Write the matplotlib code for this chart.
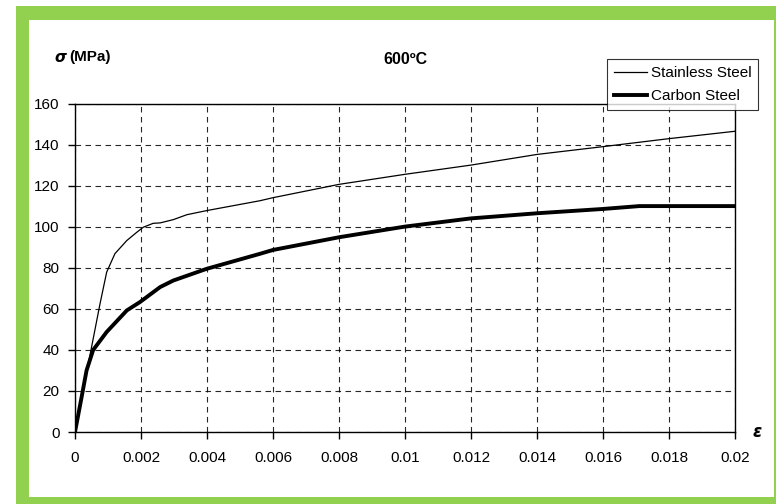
import matplotlib
matplotlib.use("Agg")
import matplotlib.pyplot as plt
from matplotlib.patches import Rectangle

plt.rcParams['font.family'] = ['Liberation Sans', 'DejaVu Sans']

# Stress-strain curves at 600ºC
strain_ss = [0, 0.0004, 0.00076, 0.00096, 0.00121, 0.00157, 0.00187, 0.00207,
             0.00237, 0.00258, 0.00298, 0.00339, 0.00399, 0.0056, 0.006,
             0.008, 0.010, 0.012, 0.014, 0.016, 0.018, 0.020]
stress_ss = [0, 33, 62.7, 78, 87, 93.4, 97.4, 99.9,
             101.8, 102, 103.6, 106, 108, 112.8, 114.3,
             120.8, 125.7, 130.2, 135.4, 139.2, 143.1, 146.7]

strain_cs = [0, 0.0002, 0.00035, 0.00055, 0.00096, 0.00157, 0.00197, 0.00258,
             0.00298, 0.00399, 0.0056, 0.006, 0.008, 0.010, 0.012, 0.014,
             0.016, 0.0171, 0.018, 0.020]
stress_cs = [0, 17, 30, 40, 48.8, 59.3, 63.4, 70.7,
             73.9, 79.6, 86.9, 88.8, 95, 100.2, 104.2, 106.7,
             108.8, 110.2, 110.2, 110.2]

x_ticks = [0, 0.002, 0.004, 0.006, 0.008, 0.01, 0.012, 0.014, 0.016, 0.018, 0.02]
x_tick_labels = ['0', '0.002', '0.004', '0.006', '0.008', '0.01', '0.012',
                 '0.014', '0.016', '0.018', '0.02']
y_ticks = [0, 20, 40, 60, 80, 100, 120, 140, 160]

W, H = 776, 504
fig = plt.figure(figsize=(W / 100, H / 100), dpi=100)
fig.patch.set_facecolor('white')

# green frame around the chart, on a background layer
bg = fig.add_axes([0, 0, 1, 1], zorder=0)
bg.set_xlim(0, W)
bg.set_ylim(H, 0)
bg.axis('off')
green = '#92D050'
bg.add_patch(Rectangle((16, 6), W - 16, H - 6, facecolor=green, edgecolor='none'))
bg.add_patch(Rectangle((29, 20), 774 - 29, 497 - 20, facecolor='white', edgecolor='none'))

ax = fig.add_axes([75 / W, 1 - 432 / H, (735 - 75) / W, (432 - 104) / H], zorder=2)
ax.set_facecolor('white')

ax.plot(strain_ss, stress_ss, color='black', lw=0.9, label='Stainless Steel', zorder=3)
ax.plot(strain_cs, stress_cs, color='black', lw=2.8, label='Carbon Steel', zorder=3)

ax.set_xlim(0, 0.02)
ax.set_ylim(0, 160)
ax.set_xticks(x_ticks)
ax.set_xticklabels(x_tick_labels)
ax.set_yticks(y_ticks)
ax.tick_params(axis='both', direction='out', length=5, width=1, labelsize=11,
               colors='black', pad=6)
ax.tick_params(axis='x', pad=9)
ax.grid(True, color='black', linestyle=(0, (5, 4)), linewidth=0.8, alpha=0.85)
for s in ax.spines.values():
    s.set_color('black')
    s.set_linewidth(1.0)

fig.text(54 / W, 1 - 57 / H, '\u03c3', fontsize=11, va='center', ha='left',
         family='DejaVu Sans', fontweight='bold', style='italic')
fig.text(69 / W, 1 - 57 / H, '(MPa)', fontsize=11, va='center', ha='left',
         fontweight='bold')
fig.text(405 / W, 1 - 60 / H, '600\u00baC', fontsize=11.5, va='center', ha='center',
         fontweight='bold')
fig.text(757 / W, 1 - 432 / H, '\u03b5', fontsize=12, va='center', ha='center',
         family='DejaVu Sans', fontweight='bold', style='italic')

leg = fig.legend(loc='upper left', bbox_to_anchor=(607 / W, 1 - 59 / H),
                 fontsize=11, frameon=True, fancybox=False, handlelength=2.2,
                 handletextpad=0.2, borderpad=0.45, labelspacing=0.6,
                 borderaxespad=0)
leg.set_zorder(5)
leg.get_frame().set_edgecolor('black')
leg.get_frame().set_linewidth(0.8)

fig.savefig('out.png', dpi=100, facecolor='white')
